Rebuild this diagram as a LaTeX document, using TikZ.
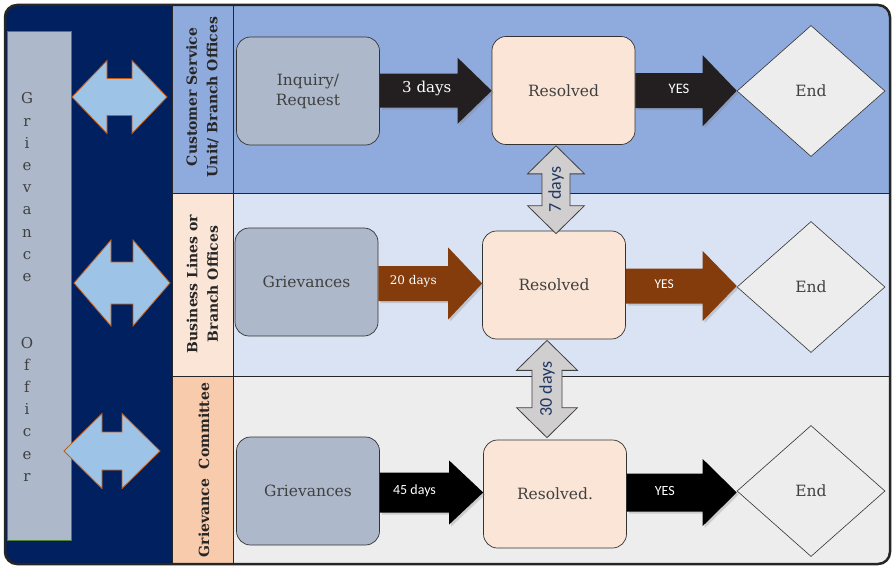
\documentclass[tikz,border=0pt]{standalone}
\usepackage{fontspec}
\setmainfont{DejaVu Serif}
\newfontfamily\sansfont{Carlito}
\usetikzlibrary{positioning,calc,shapes.geometric,shadows}

\definecolor{navyblue}{HTML}{002060}
\definecolor{laneone}{HTML}{8FAADC}
\definecolor{lanetwo}{HTML}{DAE3F3}
\definecolor{lanethree}{HTML}{EDEDED}
\definecolor{tagtwo}{HTML}{FBE5D6}
\definecolor{tagthree}{HTML}{F8CBAD}
\definecolor{slate}{HTML}{ADB9CA}
\definecolor{peach}{HTML}{FBE5D6}
\definecolor{skyblue}{HTML}{9DC3E6}
\definecolor{rust}{HTML}{C55A11}
\definecolor{leaf}{HTML}{548235}
\definecolor{brownarr}{HTML}{843C0C}
\definecolor{nearblack}{HTML}{231F20}
\definecolor{silver}{HTML}{D0CECE}
\definecolor{inkblue}{HTML}{203864}
\definecolor{boxtext}{HTML}{404040}

\tikzset{
  stepbox/.style    = {draw=black!80, line width=0.7pt, rounded corners=14pt,
                       minimum width=143pt, minimum height=108pt, align=center,
                       text=boxtext, font=\fontsize{15.5}{20}\selectfont},
  endnode/.style    = {draw=black!80, line width=0.6pt, diamond, fill=lanethree,
                       minimum width=148pt, minimum height=131pt, inner sep=0pt,
                       text=boxtext, font=\fontsize{15.5}{20}\selectfont},
  lanetag/.style    = {rotate=90, align=center, text=black!85,
                       font=\bfseries\fontsize{14}{20.5}\selectfont},
  laneline/.style   = {draw=black!85, line width=0.9pt},
  officerbox/.style = {fill=slate, draw=leaf, line width=1pt,
                       minimum width=64pt, minimum height=508pt},
  flow/.style       = {fill=#1, drop shadow={shadow xshift=2pt,
                       shadow yshift=-2pt, opacity=0.3}},
  flowtext/.style   = {text=white, inner sep=0pt, yshift=2pt},
  sidearrow/.style  = {fill=skyblue, draw=rust, line width=0.8pt},
  waitarrow/.style  = {fill=silver, draw=black!75, line width=0.8pt},
  waittext/.style   = {rotate=90, text=inkblue, inner sep=0pt,
                       font=\sansfont\fontsize{18}{20}\selectfont},
}

% block arrow from one box to the next: colour, from, to, shaft, head, name, label
\newcommand{\blockarrow}[7]{%
  \path[flow=#1] let \p1=(#2.east), \p2=(#3.west),
    \p3=($(#2.east)!.5!(#3.west)$) in
    (\x1,\y3-#4) -- (\x2-34pt,\y3-#4) -- (\x2-34pt,\y3-#5) -- (\x2,\y3)
    -- (\x2-34pt,\y3+#5) -- (\x2-34pt,\y3+#4) -- (\x1,\y3+#4) -- cycle
    ({0.5*\x1+0.5*\x2-17pt},\y3) node[flowtext] (#6) {#7};}

% left-right arrow: left tip, right tip, shaft, head, head length
\newcommand{\sidearrowpath}[5]{%
  \path[sidearrow] let \p1=(#1), \p2=(#2) in
    (\x1,\y1) -- (\x1+#5,\y1+#4) -- (\x1+#5,\y1+#3) -- (\x2-#5,\y1+#3)
    -- (\x2-#5,\y1+#4) -- (\x2,\y1) -- (\x2-#5,\y1-#4) -- (\x2-#5,\y1-#3)
    -- (\x1+#5,\y1-#3) -- (\x1+#5,\y1-#4) -- cycle;}

% up-down arrow: top tip, bottom tip, shaft, head, head length, name, label
\newcommand{\waitarrowpath}[7]{%
  \path[waitarrow] let \p1=(#1), \p2=(#2) in
    (\x1,\y1) -- (\x1+#4,\y1-#5) -- (\x1+#3,\y1-#5) -- (\x1+#3,\y2+#5)
    -- (\x1+#4,\y2+#5) -- (\x1,\y2) -- (\x1-#4,\y2+#5) -- (\x1-#3,\y2+#5)
    -- (\x1-#3,\y1-#5) -- (\x1-#4,\y1-#5) -- cycle;
  \node[waittext] (#6) at ($(#1)!.5!(#2)$) {#7};}

\begin{document}
\begin{tikzpicture}[x=1pt,y=-1pt]
\useasboundingbox (0,0) rectangle (893,567);

% lanes
\begin{scope}
  \clip[rounded corners=12pt] (5,5) rectangle (890,564);
  \fill[navyblue] (5,5) rectangle (172,564);
  \fill[laneone] (172,5) rectangle (890,193);
  \fill[tagtwo] (172,193) rectangle (233,376);
  \fill[lanetwo] (233,193) rectangle (890,376);
  \fill[tagthree] (172,376) rectangle (233,564);
  \fill[lanethree] (233,376) rectangle (890,564);
  \draw[laneline] (172,5) -- (172,564) (233,5) -- (233,564)
                  (172,193) -- (890,193) (172,376) -- (890,376);
\end{scope}
\draw[rounded corners=12pt, line width=2.5pt, draw=black!85] (5,5) rectangle (890,564);

\node[lanetag] (tag1) at (202.5,97) {Customer Service\\Unit/ Branch Offices};
\node[lanetag] (tag2) at (202.5,284) {Business Lines or\\Branch Offices};
\node[lanetag] (tag3) at (204,470) {Grievance\ \ Committee};

% officer
\node[officerbox] (officer) at (39,286) {};
\node[text=boxtext, align=center, inner sep=0pt,
      font=\fontsize{15}{22.2}\selectfont] (officertext) at (27,287)
  {G\\r\\i\\e\\v\\a\\n\\c\\e\\[44.4pt]O\\f\\f\\i\\c\\e\\r};

\coordinate (s1l) at (72,97);  \coordinate (s1r) at (167,97);
\coordinate (s2l) at (74,283); \coordinate (s2r) at (170,283);
\coordinate (s3l) at (64,451); \coordinate (s3r) at (160,451);
\sidearrowpath{s1l}{s1r}{18.5pt}{36.5pt}{35pt}
\sidearrowpath{s2l}{s2r}{21pt}{43pt}{37pt}
\sidearrowpath{s3l}{s3r}{19pt}{37.5pt}{38pt}

% boxes
\node[stepbox, fill=slate] (inq) at (308,91) {Inquiry/\\Request};
\node[stepbox, fill=peach] (res1) at (563.5,90.5) {Resolved};
\node[endnode] (end1) at (811,91) {End};
\node[stepbox, fill=slate] (gri2) at (306.5,282) {Grievances};
\node[stepbox, fill=peach] (res2) at (554,285) {Resolved};
\node[endnode] (end2) at (811,287) {End};
\node[stepbox, fill=slate] (gri3) at (308,491) {Grievances};
\node[stepbox, fill=peach] (res3) at (555,494) {Resolved.};
\node[endnode] (end3) at (811,491) {End};

% flow arrows
\blockarrow{nearblack}{inq}{res1}{17pt}{33pt}{d3}{\hspace*{16pt}\fontsize{15}{18}\selectfont 3 days}
\blockarrow{nearblack}{res1}{end1}{17.5pt}{35.5pt}{yes1}{\hspace*{20pt}\sansfont\fontsize{14.5}{16}\selectfont YES}
\blockarrow{brownarr}{gri2}{res2}{17.5pt}{36pt}{d20}{\fontsize{12}{14}\selectfont 20 days}
\blockarrow{brownarr}{res2}{end2}{17.5pt}{35pt}{yes2}{\sansfont\fontsize{13.5}{16}\selectfont YES}
\blockarrow{black}{gri3}{res3}{20pt}{32pt}{d45}{\sansfont\fontsize{14}{16}\selectfont 45 days}
\blockarrow{black}{res3}{end3}{19pt}{33.5pt}{yes3}{\sansfont\fontsize{14}{16}\selectfont YES}

% escalation
\coordinate (w1t) at ($(res1.south)+(-7.5,1)$);
\coordinate (w1b) at ($(res2.north)+(2,3)$);
\coordinate (w2t) at ($(res2.south)+(-7,1)$);
\coordinate (w2b) at ($(res3.north)+(-8,-2)$);
\waitarrowpath{w1t}{w1b}{14pt}{28.5pt}{28pt}{d7}{7 days}
\waitarrowpath{w2t}{w2b}{15pt}{30.5pt}{30pt}{d30}{30 days}
\end{tikzpicture}
\end{document}
